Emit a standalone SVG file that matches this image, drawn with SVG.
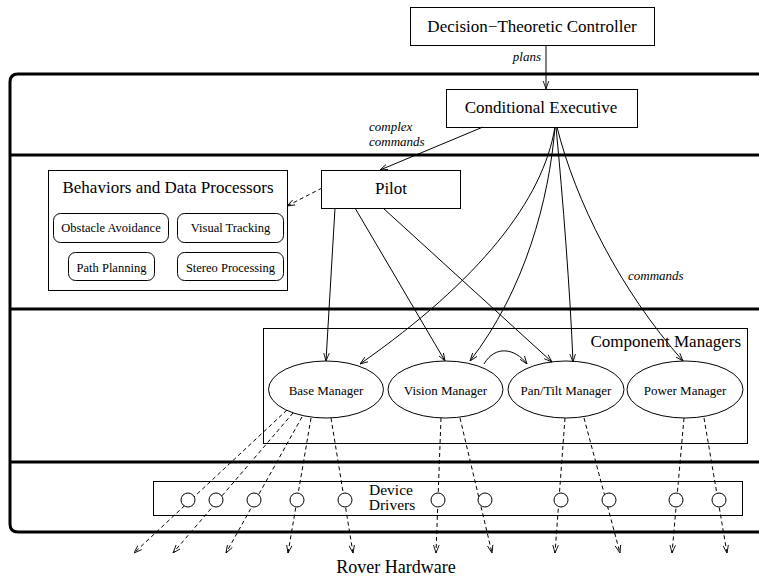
<svg xmlns="http://www.w3.org/2000/svg" width="759" height="580" viewBox="0 0 759 580">
<defs>
<style>
text{font-family:"Liberation Serif","Times New Roman",serif;fill:#000}
.big{font-size:17px}
.sm{font-size:13px}
.bx{font-size:12.5px}
.it{font-size:13px;font-style:italic}
.dd{font-size:15.5px}
.box{fill:#fff;stroke:#000;stroke-width:1}
.frame{fill:none;stroke:#000;stroke-width:3}
.c{fill:none;stroke:#000;stroke-width:1}
.d{fill:none;stroke:#000;stroke-width:1;stroke-dasharray:4 3}
</style>
<marker id="arr" viewBox="0 0 10 10" refX="10" refY="5" markerWidth="8" markerHeight="8" orient="auto" markerUnits="userSpaceOnUse">
<path d="M0,1.5 L10,5 L0,8.5" fill="none" stroke="#000" stroke-width="1.1"/>
</marker>
</defs>
<rect width="759" height="580" fill="#fff"/>

<g id="frame">
<path class="frame" d="M760,74 H18 Q10,74 10,82 V524 Q10,532 18,532 H760"/>
<line class="frame" x1="10" y1="155" x2="760" y2="155"/>
<line class="frame" x1="10" y1="309" x2="760" y2="309"/>
<line class="frame" x1="10" y1="462" x2="760" y2="462"/>
</g>

<g id="dtc">
<rect class="box" x="410.5" y="7.5" width="244" height="38"/>
<text class="big" x="532" y="32" text-anchor="middle">Decision−Theoretic Controller</text>
</g>

<g id="ce">
<rect class="box" x="446.5" y="89.5" width="191" height="38"/>
<text class="big" x="541" y="113" text-anchor="middle">Conditional Executive</text>
</g>

<g id="pilot">
<rect class="box" x="321.5" y="170.5" width="139" height="38"/>
<text class="big" x="391" y="194" text-anchor="middle">Pilot</text>
</g>

<g id="behaviors">
<rect class="box" x="48.5" y="170.5" width="239" height="120"/>
<text class="big" x="168" y="193" text-anchor="middle">Behaviors and Data Processors</text>
<rect class="box" x="53.5" y="213.5" width="115" height="29" rx="7"/>
<text class="bx" x="111" y="232" text-anchor="middle">Obstacle Avoidance</text>
<rect class="box" x="177.5" y="213.5" width="106" height="29" rx="7"/>
<text class="bx" x="230.5" y="232" text-anchor="middle">Visual Tracking</text>
<rect class="box" x="68.5" y="252.5" width="86" height="28" rx="7"/>
<text class="bx" x="111.5" y="272" text-anchor="middle">Path Planning</text>
<rect class="box" x="177.5" y="252.5" width="106" height="28" rx="7"/>
<text class="bx" x="230.5" y="272" text-anchor="middle">Stereo Processing</text>
</g>

<g id="component-managers">
<rect class="box" x="263.5" y="328.5" width="484" height="115"/>
<text class="big" x="741" y="347" text-anchor="end">Component Managers</text>
</g>

<g id="base-manager">
<ellipse class="box" cx="326" cy="389.5" rx="57.5" ry="28.5"/>
<text class="sm" x="326" y="395" text-anchor="middle">Base Manager</text>
</g>
<g id="vision-manager">
<ellipse class="box" cx="445.5" cy="389.5" rx="57.5" ry="28.5"/>
<text class="sm" x="445.5" y="395" text-anchor="middle">Vision Manager</text>
</g>
<g id="pantilt-manager">
<ellipse class="box" cx="566" cy="389.5" rx="58" ry="28.5"/>
<text class="sm" x="566" y="395" text-anchor="middle">Pan/Tilt Manager</text>
</g>
<g id="power-manager">
<ellipse class="box" cx="685" cy="389.5" rx="58" ry="28.5"/>
<text class="sm" x="685" y="395" text-anchor="middle">Power Manager</text>
</g>

<g id="connectors">
<line class="c" x1="546" y1="45" x2="546" y2="89" marker-end="url(#arr)"/>
<text class="it" x="541" y="61" text-anchor="end">plans</text>
<line class="c" x1="483" y1="127" x2="380" y2="170" marker-end="url(#arr)"/>
<text class="it" x="369" y="131">complex</text>
<text class="it" x="369" y="146">commands</text>
<line class="d" x1="322" y1="188" x2="287" y2="206" marker-end="url(#arr)"/>
<line class="c" x1="335" y1="208" x2="326" y2="361" marker-end="url(#arr)"/>
<line class="c" x1="355" y1="208" x2="445" y2="361" marker-end="url(#arr)"/>
<line class="c" x1="383" y1="208" x2="552" y2="362" marker-end="url(#arr)"/>
<path class="c" d="M555,127 C543,200 480,280 360,364" marker-end="url(#arr)"/>
<path class="c" d="M555,127 C549,200 525,290 470,361" marker-end="url(#arr)"/>
<path class="c" d="M556,127 C563,200 570,290 573,362" marker-end="url(#arr)"/>
<path class="c" d="M557,127 C575,200 620,290 683,361" marker-end="url(#arr)"/>
<text class="it" x="628" y="280">commands</text>
<path class="c" d="M484,364 C495,345 515,348 527,364" marker-end="url(#arr)"/>

<line class="d" x1="287" y1="410" x2="134" y2="553" marker-end="url(#arr)"/>
<line class="d" x1="293" y1="413" x2="173" y2="553" marker-end="url(#arr)"/>
<line class="d" x1="302" y1="417" x2="226" y2="553" marker-end="url(#arr)"/>
<line class="d" x1="311" y1="418" x2="288" y2="553" marker-end="url(#arr)"/>
<line class="d" x1="331" y1="418" x2="353" y2="553" marker-end="url(#arr)"/>
<line class="d" x1="441" y1="418" x2="436" y2="553" marker-end="url(#arr)"/>
<line class="d" x1="460" y1="418" x2="492" y2="553" marker-end="url(#arr)"/>
<line class="d" x1="565" y1="418" x2="555" y2="553" marker-end="url(#arr)"/>
<line class="d" x1="584" y1="418" x2="620" y2="553" marker-end="url(#arr)"/>
<line class="d" x1="684" y1="418" x2="672" y2="553" marker-end="url(#arr)"/>
<line class="d" x1="704" y1="418" x2="727" y2="553" marker-end="url(#arr)"/>
</g>

<g id="device-drivers">
<rect x="153.5" y="481.5" width="589" height="34" fill="none" stroke="#000"/>
<text class="dd" x="391" y="495" text-anchor="middle">Device</text>
<text class="dd" x="392" y="510" text-anchor="middle">Drivers</text>
<circle class="box" cx="188" cy="500" r="7"/>
<circle class="box" cx="216" cy="500" r="7"/>
<circle class="box" cx="254" cy="500" r="7"/>
<circle class="box" cx="297" cy="500" r="7"/>
<circle class="box" cx="345" cy="500" r="7"/>
<circle class="box" cx="438" cy="500" r="7"/>
<circle class="box" cx="485" cy="500" r="7"/>
<circle class="box" cx="561" cy="500" r="7"/>
<circle class="box" cx="609" cy="500" r="7"/>
<circle class="box" cx="676" cy="500" r="7"/>
<circle class="box" cx="719" cy="500" r="7"/>
</g>

<g id="rover-hardware">
<text class="big" x="396" y="573" text-anchor="middle" style="font-size:18px">Rover Hardware</text>
</g>
</svg>
